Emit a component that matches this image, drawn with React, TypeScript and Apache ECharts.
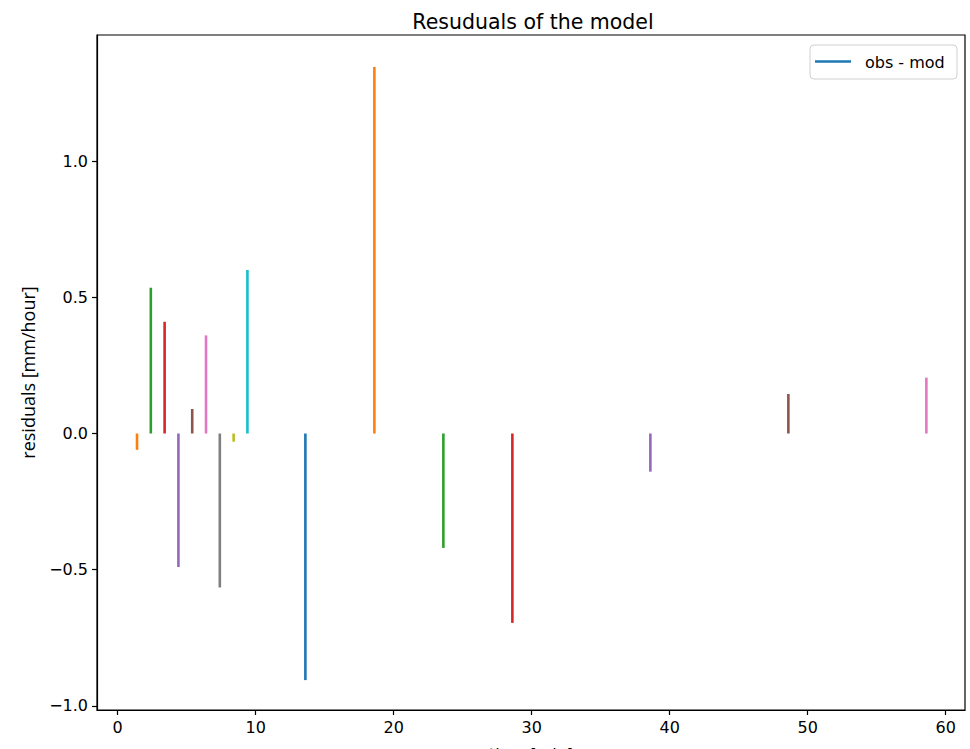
import React, { useEffect, useRef } from "react";
import * as echarts from "echarts";

const times = [1.4, 2.4, 3.4, 4.4, 5.4, 6.4, 7.4, 8.4, 9.4, 13.6, 18.6, 23.6, 28.6, 38.6, 48.6, 58.6];
const residuals = [-0.06, 0.535, 0.41, -0.49, 0.09, 0.36, -0.565, -0.03, 0.6, -0.905, 1.345, -0.42, -0.695, -0.14, 0.145, 0.205];
const lineColors = [
  "#ff7f0e", "#2ca02c", "#d62728", "#9467bd", "#8c564b", "#e377c2", "#7f7f7f", "#bcbd22",
  "#17becf", "#1f77b4", "#ff7f0e", "#2ca02c", "#d62728", "#9467bd", "#8c564b", "#e377c2",
];
const xTicks = [0, 10, 20, 30, 40, 50, 60];
const yTicks = [-1.0, -0.5, 0.0, 0.5, 1.0];
const legendLabel = "obs - mod";
const legendColor = "#1f77b4";
const titleText = "Resuduals of the model";
const xLabel = "time [min]";
const yLabel = "residuals [mm/hour]";

const FONT = "DejaVu Sans";

export default function App() {
  const ref = useRef<HTMLDivElement>(null);
  useEffect(() => {
    if (!ref.current) return;
    const chart = echarts.init(ref.current, null, { renderer: "svg" });
    const data = times.map((t, i) => [t, residuals[i], i]);
    chart.setOption({
      animation: false,
      backgroundColor: "#ffffff",
      title: {
        text: titleText,
        left: 528,
        top: 6,
        textAlign: "center",
        textStyle: { fontFamily: FONT, fontSize: 20.5, fontWeight: "normal", color: "#000" },
      },
      grid: {
        left: 97,
        right: 5,
        top: 35,
        bottom: 39,
        containLabel: false,
        outerBoundsMode: "none",
        show: true,
        borderColor: "#000",
        borderWidth: 1.2,
        backgroundColor: "transparent",
      },
      xAxis: {
        type: "value",
        min: -1.5,
        max: 61.4,
        name: xLabel,
        nameLocation: "middle",
        nameGap: 36,
        nameTextStyle: { fontFamily: FONT, fontSize: 16, color: "#000" },
        axisLine: { show: true, onZero: false, lineStyle: { color: "#000", width: 1.2 } },
        axisTick: { show: true, inside: false, length: 5, customValues: xTicks, lineStyle: { color: "#000", width: 1.2 } },
        axisLabel: {
          customValues: xTicks,
          margin: 9,
          fontFamily: FONT,
          fontSize: 16,
          color: "#000",
          formatter: (v: number) => String(v),
        },
        splitLine: { show: false },
      },
      yAxis: {
        type: "value",
        min: -1.0147,
        max: 1.4624,
        name: yLabel,
        nameLocation: "middle",
        nameGap: 60,
        nameRotate: 90,
        nameTextStyle: { fontFamily: "Open Sans", fontSize: 18, color: "#000" },
        axisLine: { show: true, onZero: false, lineStyle: { color: "#000", width: 1.2 } },
        axisTick: { show: true, inside: false, length: 5, customValues: yTicks, lineStyle: { color: "#000", width: 1.2 } },
        axisLabel: {
          customValues: yTicks,
          margin: 9,
          fontFamily: FONT,
          fontSize: 16,
          color: "#000",
          formatter: (v: number) => (v < 0 ? "\u2212" + Math.abs(v).toFixed(1) : v.toFixed(1)),
        },
        splitLine: { show: false },
      },
      series: [
        {
          type: "custom",
          name: legendLabel,
          data,
          clip: true,
          renderItem: (params: any, api: any) => {
            const x = api.value(0);
            const y = api.value(1);
            const idx = api.value(2);
            const p0 = api.coord([x, 0]);
            const p1 = api.coord([x, y]);
            return {
              type: "line",
              shape: { x1: p0[0], y1: p0[1], x2: p1[0], y2: p1[1] },
              style: { stroke: lineColors[idx], lineWidth: 2.6, lineCap: "butt" },
            };
          },
        },
      ],
      graphic: [
        {
          type: "rect",
          shape: { x: 810, y: 45, width: 147, height: 34, r: 4 },
          style: { fill: "rgba(255,255,255,0.8)", stroke: "#d0d0d0", lineWidth: 1 },
          z: 100,
        },
        {
          type: "line",
          shape: { x1: 815, y1: 61.5, x2: 851, y2: 61.5 },
          style: { stroke: legendColor, lineWidth: 2.6 },
          z: 101,
        },
        {
          type: "text",
          x: 865,
          y: 62,
          style: {
            text: legendLabel,
            fontFamily: FONT,
            fontSize: 16,
            fill: "#000",
            verticalAlign: "middle",
            align: "left",
          },
          z: 101,
        },
      ],
    });
    return () => chart.dispose();
  }, []);
  return <div ref={ref} style={{ width: 970, height: 749, position: "absolute", left: 0, top: 0 }} />;
}
